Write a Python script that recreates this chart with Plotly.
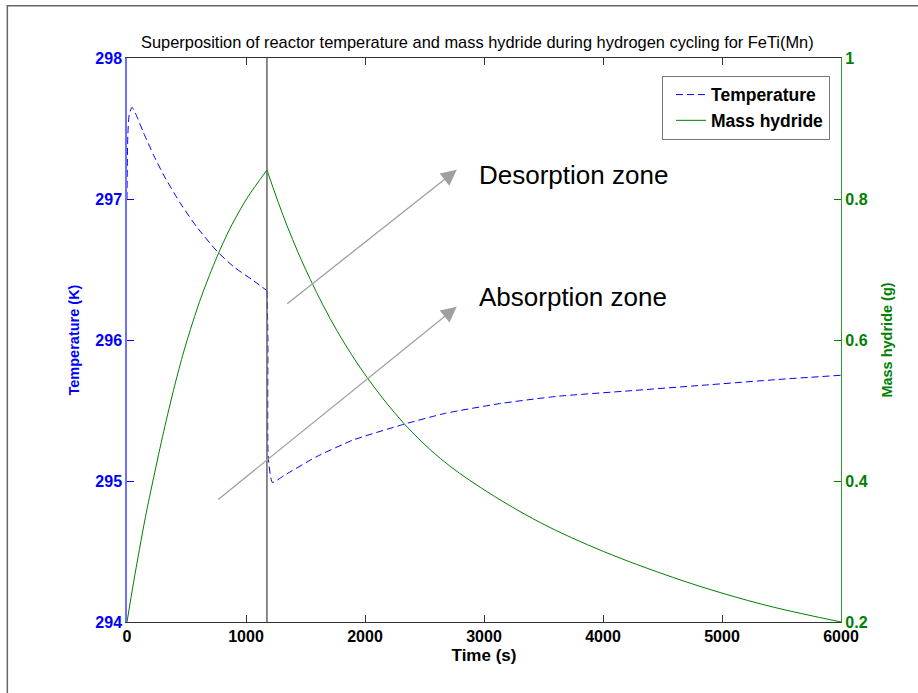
import plotly.graph_objects as go

# Cycle switch time (absorption -> desorption), seconds
SWITCH_TIME = 1176

# Reactor temperature (K) during absorption
t_abs_temp = [0, 7, 19, 42, 70, 139, 224, 308, 448, 588, 756, 896, 1064, 1176]
temp_abs = [297.00, 297.45, 297.60, 297.65, 297.61, 297.47, 297.31, 297.17,
            296.97, 296.80, 296.63, 296.52, 296.42, 296.35]

# Reactor temperature (K) during desorption
t_des_temp = [1176, 1184, 1187, 1222, 1322, 1587, 1898, 2317, 2675, 3141,
              3608, 4229, 4851, 5473, 6000]
temp_des = [296.35, 296.02, 295.17, 294.99, 295.04, 295.17, 295.29, 295.40,
            295.48, 295.55, 295.60, 295.64, 295.68, 295.72, 295.75]

# Hydride mass (g) during absorption
t_abs_mass = [0, 56, 154, 224, 308, 400, 476, 550, 630, 756, 868, 1008, 1176]
mass_abs = [0.200, 0.257, 0.348, 0.405, 0.470, 0.535, 0.583, 0.624, 0.664,
            0.718, 0.759, 0.801, 0.841]

# Hydride mass (g) during desorption
t_des_mass = [1176, 1345, 1540, 1765, 2017, 2325, 2633, 2969, 3473, 4005,
              4593, 5000, 5434, 6000]
mass_des = [0.841, 0.762, 0.686, 0.613, 0.547, 0.482, 0.432, 0.391, 0.341,
            0.300, 0.263, 0.241, 0.221, 0.200]

x_ticks = [0, 1000, 2000, 3000, 4000, 5000, 6000]
temp_ticks = [294, 295, 296, 297, 298]
mass_ticks = [0.2, 0.4, 0.6, 0.8, 1.0]
mass_tick_text = ["0.2", "0.4", "0.6", "0.8", "1"]

FONT = "Liberation Sans, Arial, sans-serif"
BLUE = "rgb(0,0,255)"
GREEN = "rgb(0,128,0)"

fig = go.Figure()

fig.add_trace(go.Scatter(
    x=t_abs_temp, y=temp_abs, mode="lines", name="Temperature",
    legendgroup="T", line=dict(color=BLUE, width=1, dash="7px,4px",
                               shape="spline", smoothing=0.6),
    yaxis="y"))
fig.add_trace(go.Scatter(
    x=t_des_temp, y=temp_des, mode="lines", name="Temperature",
    legendgroup="T", showlegend=False,
    line=dict(color=BLUE, width=1, dash="7px,4px", shape="spline",
              smoothing=0.5),
    yaxis="y"))
fig.add_trace(go.Scatter(
    x=t_abs_mass, y=mass_abs, mode="lines", name="Mass hydride",
    legendgroup="M", line=dict(color=GREEN, width=1, shape="spline",
                               smoothing=0.8),
    yaxis="y2"))
fig.add_trace(go.Scatter(
    x=t_des_mass, y=mass_des, mode="lines", name="Mass hydride",
    legendgroup="M", showlegend=False,
    line=dict(color=GREEN, width=1, shape="spline", smoothing=1.0),
    yaxis="y2"))

arrow_style = dict(showarrow=True, arrowhead=2, arrowsize=2.4, arrowwidth=1.3,
                   arrowcolor="rgb(160,160,160)", xref="paper", yref="paper",
                   text="", standoff=0, startstandoff=0)

fig.update_layout(
    width=918, height=693,
    margin=dict(l=127, r=77, t=58, b=71),
    paper_bgcolor="white", plot_bgcolor="white",
    font=dict(family=FONT, color="black"),
    title=dict(
        text="Superposition of reactor temperature and mass hydride during hydrogen cycling for FeTi(Mn)",
        x=0.52, xref="container", xanchor="center",
        y=1 - 42 / 693, yref="container", yanchor="middle",
        font=dict(size=16.4, family=FONT, color="black")),
    xaxis=dict(
        range=[0, 6000], tickvals=x_ticks, ticks="inside", ticklen=7,
        tickcolor="#333", showline=True, linecolor="#333", linewidth=1.2,
        mirror="ticks", showgrid=False, zeroline=False,
        tickfont=dict(size=16, family=FONT, color="black", weight="bold"),
        title=dict(text="Time (s)", standoff=4,
                   font=dict(size=17, family=FONT, color="black",
                             weight="bold"))),
    yaxis=dict(
        range=[294, 298], tickvals=temp_ticks, ticks="inside", ticklen=7,
        tickcolor=BLUE, showline=True, linecolor="rgb(110,110,255)",
        linewidth=1.5, showgrid=False, zeroline=False,
        tickfont=dict(size=16, family=FONT, color=BLUE, weight="bold"),
        title=dict(text="Temperature (K)", standoff=12,
                   font=dict(size=14.5, family=FONT, color=BLUE,
                             weight="bold"))),
    yaxis2=dict(
        range=[0.2, 1.0], tickvals=mass_ticks, ticktext=mass_tick_text,
        overlaying="y", side="right", ticks="inside", ticklen=7,
        tickcolor=GREEN, showline=True, linecolor="rgb(50,150,50)",
        linewidth=1.2, showgrid=False, zeroline=False,
        tickfont=dict(size=16, family=FONT, color=GREEN, weight="bold"),
        title=dict(text="Mass hydride (g)", standoff=15,
                   font=dict(size=14.5, family=FONT, color=GREEN,
                             weight="bold"))),
    legend=dict(
        x=0.9846, xanchor="right", y=0.9686, yanchor="top",
        bgcolor="white", bordercolor="#777", borderwidth=1,
        font=dict(size=17.5, family=FONT, color="black", weight="bold"),
        tracegroupgap=0, indentation=8),
    showlegend=True,
    shapes=[
        # figure frame
        dict(type="rect", xref="paper", yref="paper",
             x0=-0.1676, x1=1.3, y0=-0.3, y1=1.0928,
             line=dict(color="#666", width=1.5), layer="below"),
        # cycle switch marker
        dict(type="line", xref="x", yref="paper",
             x0=SWITCH_TIME, x1=SWITCH_TIME, y0=0, y1=1,
             line=dict(color="rgb(100,100,100)", width=1.5)),
    ],
    annotations=[
        dict(x=0.4618, y=0.8017, ax=-171, ay=135, **arrow_style),
        dict(x=0.4618, y=0.5591, ax=-240, ay=194, **arrow_style),
        dict(x=0.4895, y=0.7929, xref="paper", yref="paper",
             text="Desorption zone", showarrow=False,
             xanchor="left", yanchor="middle",
             font=dict(size=26, family=FONT, color="black")),
        dict(x=0.4895, y=0.5763, xref="paper", yref="paper",
             text="Absorption zone", showarrow=False,
             xanchor="left", yanchor="middle",
             font=dict(size=26, family=FONT, color="black")),
    ],
)

fig.write_html("out.html")
